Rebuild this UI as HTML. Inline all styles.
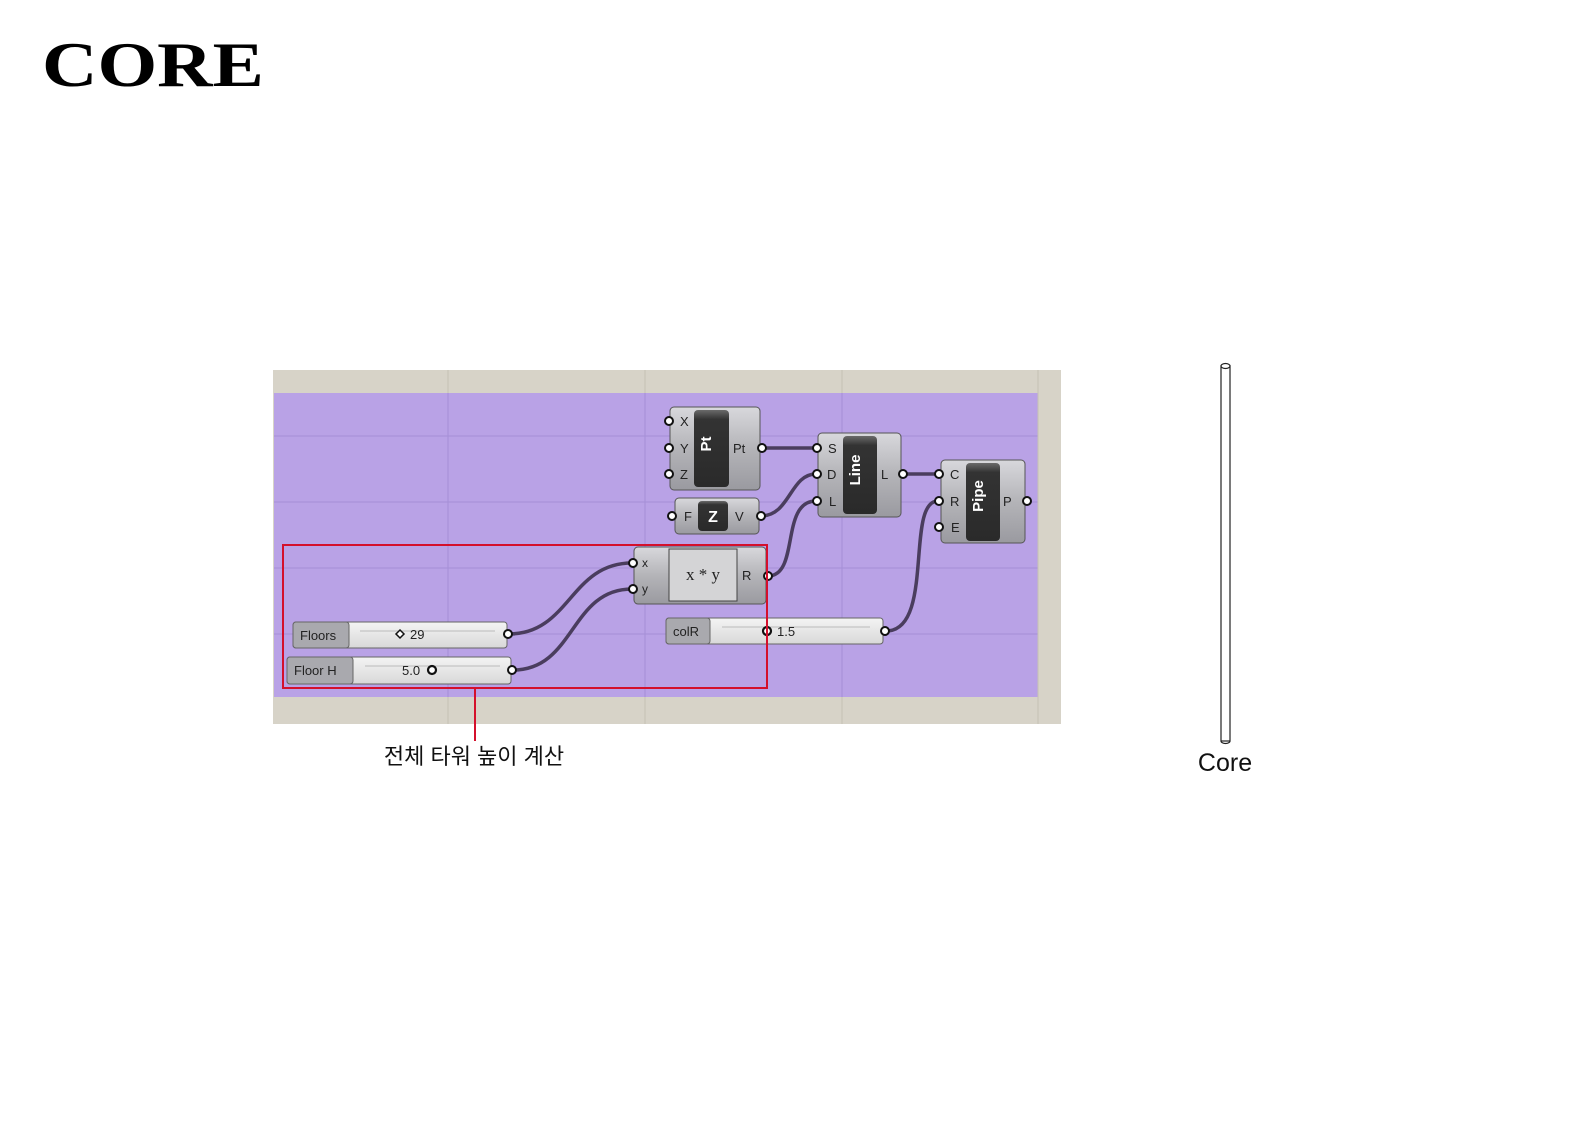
<!DOCTYPE html>
<html><head><meta charset="utf-8"><style>
html,body{margin:0;padding:0;background:#fff;}
body{width:1587px;height:1122px;position:relative;overflow:hidden;}
</style></head><body>
<svg width="1587" height="1122" viewBox="0 0 1587 1122" xmlns="http://www.w3.org/2000/svg" style="position:absolute;left:0;top:0">
<defs>
<linearGradient id="ng" x1="0" y1="0" x2="0" y2="1">
<stop offset="0" stop-color="#d8d8dc"/><stop offset="0.5" stop-color="#b4b4b8"/><stop offset="1" stop-color="#9a9aa0"/></linearGradient>
<linearGradient id="dg" x1="0" y1="0" x2="0" y2="1">
<stop offset="0" stop-color="#6a6a6a"/><stop offset="0.12" stop-color="#333"/><stop offset="1" stop-color="#2a2a2a"/></linearGradient>
<linearGradient id="sg" x1="0" y1="0" x2="0" y2="1">
<stop offset="0" stop-color="#f4f4f4"/><stop offset="1" stop-color="#d8d8d8"/></linearGradient>
</defs>
<text x="42" y="86" font-family="Liberation Serif, serif" font-weight="bold" font-size="64" transform="translate(42 0) scale(1.2 1) translate(-42 0)">CORE</text>

<!-- canvas -->
<rect x="273" y="370" width="788" height="354" fill="#d7d3c8"/>
<rect x="274" y="393" width="764" height="304" fill="#b9a2e6"/>
<g stroke="#a58fd6" stroke-width="1">
<line x1="448" y1="393" x2="448" y2="697"/><line x1="645" y1="393" x2="645" y2="697"/><line x1="842" y1="393" x2="842" y2="697"/>
<line x1="274" y1="436" x2="1038" y2="436"/><line x1="274" y1="502" x2="1038" y2="502"/><line x1="274" y1="568" x2="1038" y2="568"/><line x1="274" y1="634" x2="1038" y2="634"/>
</g>
<g stroke="#c6c1b4" stroke-width="1">
<line x1="448" y1="370" x2="448" y2="393"/><line x1="645" y1="370" x2="645" y2="393"/><line x1="842" y1="370" x2="842" y2="393"/><line x1="1038" y1="370" x2="1038" y2="724"/>
<line x1="448" y1="697" x2="448" y2="724"/><line x1="645" y1="697" x2="645" y2="724"/><line x1="842" y1="697" x2="842" y2="724"/>
</g>

<!-- wires -->
<g fill="none" stroke="#4a3d5e" stroke-width="3.5">
<path d="M509 634 C570 634 570 563 632 563"/>
<path d="M513 670 C575 670 570 589 632 589"/>
<path d="M762 448 L816 448"/>
<path d="M761 516 C790 516 790 474 816 474"/>
<path d="M768 576 C800 576 780 501 816 501"/>
<path d="M903 474 L938 474"/>
<path d="M886 631 C935 631 905 501 938 501"/>
</g>

<g font-family="Liberation Sans, sans-serif" font-size="13" fill="#222">
<!-- Pt -->
<rect x="670" y="407" width="90" height="83" rx="4" fill="url(#ng)" stroke="#555"/>
<rect x="694" y="410" width="35" height="77" rx="4" fill="url(#dg)"/>
<text x="715" y="448" fill="#fff" font-size="15" font-weight="bold" text-anchor="middle" transform="rotate(-90 711 448)">Pt</text>
<text x="680" y="426">X</text><text x="680" y="453">Y</text><text x="680" y="479">Z</text><text x="733" y="453">Pt</text>
<!-- Z -->
<rect x="675" y="498" width="84" height="36" rx="4" fill="url(#ng)" stroke="#555"/>
<rect x="698" y="501" width="30" height="30" rx="4" fill="url(#dg)"/>
<text x="713" y="522" fill="#fff" font-size="16" font-weight="bold" text-anchor="middle">Z</text>
<text x="684" y="521">F</text><text x="735" y="521">V</text>
<!-- Line -->
<rect x="818" y="433" width="83" height="84" rx="4" fill="url(#ng)" stroke="#555"/>
<rect x="843" y="436" width="34" height="78" rx="4" fill="url(#dg)"/>
<text x="865" y="475" fill="#fff" font-size="15" font-weight="bold" text-anchor="middle" transform="rotate(-90 860 475)">Line</text>
<text x="828" y="453">S</text><text x="827" y="479">D</text><text x="829" y="506">L</text><text x="881" y="479">L</text>
<!-- Pipe -->
<rect x="941" y="460" width="84" height="83" rx="4" fill="url(#ng)" stroke="#555"/>
<rect x="966" y="463" width="34" height="78" rx="4" fill="url(#dg)"/>
<text x="988" y="501" fill="#fff" font-size="15" font-weight="bold" text-anchor="middle" transform="rotate(-90 983 501)">Pipe</text>
<text x="950" y="479">C</text><text x="950" y="506">R</text><text x="951" y="532">E</text><text x="1003" y="506">P</text>
<!-- mult -->
<rect x="634" y="547" width="132" height="57" rx="4" fill="url(#ng)" stroke="#555"/>
<rect x="669" y="549" width="68" height="52" fill="#d4d4d6" stroke="#444"/>
<text x="703" y="580" font-family="Liberation Serif, serif" font-size="17" text-anchor="middle">x  *  y</text>
<text x="642" y="567" font-size="12">x</text><text x="642" y="593" font-size="12">y</text><text x="742" y="580">R</text>
<!-- sliders -->
<rect x="293" y="622" width="214" height="26" rx="3" fill="url(#sg)" stroke="#666"/>
<rect x="293" y="622" width="56" height="26" rx="3" fill="#a9a9ae" stroke="#666"/>
<text x="300" y="640">Floors</text>
<line x1="360" y1="631" x2="495" y2="631" stroke="#bbb"/>
<path d="M400 630 l4 4 l-4 4 l-4 -4z" fill="#fff" stroke="#111" stroke-width="1.5"/>
<text x="410" y="639">29</text>
<rect x="287" y="657" width="224" height="27" rx="3" fill="url(#sg)" stroke="#666"/>
<rect x="287" y="657" width="66" height="27" rx="3" fill="#a9a9ae" stroke="#666"/>
<text x="294" y="675">Floor H</text>
<line x1="365" y1="666" x2="500" y2="666" stroke="#bbb"/>
<text x="402" y="675">5.0</text>
<circle cx="432" cy="670" r="4" fill="#fff" stroke="#111" stroke-width="2.2"/>
<rect x="666" y="618" width="217" height="26" rx="3" fill="url(#sg)" stroke="#666"/>
<rect x="666" y="618" width="44" height="26" rx="3" fill="#a9a9ae" stroke="#666"/>
<text x="673" y="636">colR</text>
<line x1="722" y1="627" x2="870" y2="627" stroke="#bbb"/>
<circle cx="767" cy="631" r="4" fill="#fff" stroke="#111" stroke-width="2.2"/>
<text x="777" y="636">1.5</text>
</g>
<!-- ports -->
<g fill="#fff" stroke="#111" stroke-width="2">
<circle cx="669" cy="421" r="4"/><circle cx="669" cy="448" r="4"/><circle cx="669" cy="474" r="4"/><circle cx="762" cy="448" r="4"/>
<circle cx="672" cy="516" r="4"/><circle cx="761" cy="516" r="4"/>
<circle cx="817" cy="448" r="4"/><circle cx="817" cy="474" r="4"/><circle cx="817" cy="501" r="4"/><circle cx="903" cy="474" r="4"/>
<circle cx="939" cy="474" r="4"/><circle cx="939" cy="501" r="4"/><circle cx="939" cy="527" r="4"/><circle cx="1027" cy="501" r="4"/>
<circle cx="633" cy="563" r="4"/><circle cx="633" cy="589" r="4"/><circle cx="768" cy="576" r="4"/>
<circle cx="508" cy="634" r="4"/><circle cx="512" cy="670" r="4"/><circle cx="885" cy="631" r="4"/>
</g>
<!-- red frame -->
<rect x="283" y="545" width="484" height="143" fill="none" stroke="#d4102c" stroke-width="2"/>
<line x1="475" y1="688" x2="475" y2="741" stroke="#d4102c" stroke-width="2"/>
<text x="474" y="764" font-family="Liberation Sans, 'Noto Sans CJK KR', sans-serif" font-size="22" text-anchor="middle" fill="#111">전체 타워 높이 계산</text>
<!-- core pipe -->
<rect x="1221" y="366" width="9" height="375" fill="#fff" stroke="#222" stroke-width="1.2"/>
<ellipse cx="1225.5" cy="366" rx="4.5" ry="2.5" fill="#fff" stroke="#222" stroke-width="1.2"/>
<path d="M1221 741 a4.5 2.5 0 0 0 9 0" fill="none" stroke="#222" stroke-width="1.2"/>
<text x="1225" y="771" font-family="Liberation Sans, sans-serif" font-size="25" text-anchor="middle" fill="#111">Core</text>
</svg>
</body></html>
